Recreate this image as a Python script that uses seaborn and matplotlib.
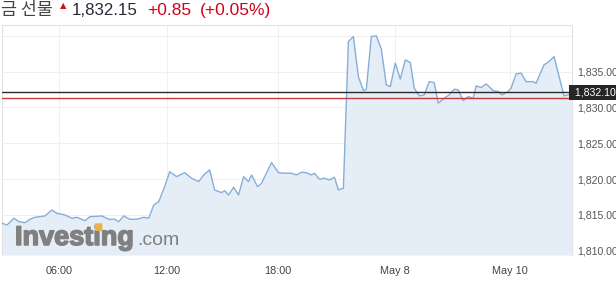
import matplotlib
matplotlib.use("Agg")
import matplotlib.pyplot as plt
import matplotlib.transforms as mtransforms
import matplotlib.patheffects as pe
import seaborn as sns
import pandas as pd

# ---- data ----
t = [0, 5, 12, 17, 23, 28, 33, 43, 50, 55, 63, 70, 75, 83, 88, 100, 107, 113, 117, 122,
     128, 135, 142, 147, 152, 157, 163, 168, 175, 183, 190, 197, 202, 208, 213, 220, 223,
     227, 232, 237, 242, 247, 250, 256, 260, 270, 277, 283, 290, 295, 300, 305, 310, 313,
     318, 323, 328, 333, 337, 342, 347, 352, 357, 362, 365, 370, 375, 380, 385, 389, 394,
     399, 404, 409, 413, 418, 423, 428, 433, 437, 443, 448, 453, 457, 462, 467, 472, 475,
     480, 485, 492, 497, 501, 507, 510, 515, 520, 525, 532, 535, 543, 548, 553, 563, 567, 571]
price = [1813.83, 1813.59, 1814.53, 1814.05, 1813.91, 1814.39, 1814.66, 1814.85, 1815.68,
         1815.22, 1814.99, 1814.53, 1814.66, 1814.19, 1814.75, 1814.85, 1814.39, 1814.39,
         1814.05, 1814.85, 1814.39, 1814.39, 1814.66, 1814.53, 1816.38, 1816.84, 1818.94,
         1821.03, 1820.34, 1820.89, 1820.11, 1819.64, 1820.57, 1821.27, 1818.48, 1818.10,
         1818.38, 1817.78, 1818.85, 1817.78, 1820.34, 1819.64, 1820.57, 1818.94, 1819.41,
         1822.29, 1820.89, 1820.81, 1820.81, 1820.57, 1820.95, 1820.89, 1820.57, 1820.81,
         1819.97, 1820.11, 1819.87, 1820.25, 1818.48, 1818.72, 1839.19, 1839.89, 1834.30,
         1832.35, 1832.54, 1839.89, 1839.99, 1838.13, 1833.14, 1832.91, 1836.17, 1833.94,
         1836.63, 1836.26, 1832.68, 1831.61, 1831.75, 1833.60, 1833.46, 1830.59, 1831.28,
         1831.75, 1832.54, 1832.44, 1830.95, 1831.51, 1831.28, 1833.00, 1832.77, 1833.28,
         1832.35, 1832.21, 1831.75, 1832.21, 1832.68, 1834.68, 1834.78, 1833.60, 1833.60,
         1833.38, 1835.94, 1836.40, 1837.09, 1831.61, 1831.75, 1832.10]
last_price = 1832.10
prev_close = 1831.30
xtick_pos = [57, 165, 276, 394, 509]
xtick_labels = ["06:00", "12:00", "18:00", "May 8", "May 10"]
ytick_vals = [1810, 1815, 1820, 1825, 1830, 1835]
ytick_labels = ["1,810.00", "1,815.00", "1,820.00", "1,825.00", "1,830.00", "1,835.00"]
title_name = "금 선물"
title_price = "1,832.15"
title_change = "+0.85"
title_pct = "(+0.05%)"

df = pd.DataFrame({"t": t, "price": price})

sns.set_theme(style="white")
plt.rcParams["font.family"] = ["Liberation Sans", "Noto Sans CJK KR", "DejaVu Sans"]

W, H = 616, 290
fig = plt.figure(figsize=(W / 100, H / 100), dpi=100)
fig.patch.set_facecolor("white")
ax = fig.add_axes([2 / W, (H - 255) / H, (572 - 2) / W, (255 - 25) / H])

ymin, ymax = 1809.4, 1841.5
ax.fill_between(df["t"], df["price"], ymin, color="#e5edf6", lw=0, zorder=1)
sns.lineplot(data=df, x="t", y="price", ax=ax, color="#86aed8", lw=1.0, zorder=4)

ax.axhline(last_price, color="#2b2b2b", lw=1.0, zorder=5)
ax.axhline(prev_close, color="#c43c3c", lw=1.0, zorder=5)

ax.set_xlim(0, 571)
ax.set_ylim(ymin, ymax)
ax.set_xlabel("")
ax.set_ylabel("")

ax.set_xticks(xtick_pos)
ax.set_xticklabels(xtick_labels)
ax.set_yticks(ytick_vals + [1840])
ax.set_yticklabels(ytick_labels + [""])
ax.yaxis.tick_right()
ax.tick_params(axis="y", length=0, pad=4, labelsize=7.6, labelcolor="#555555")
ax.tick_params(axis="x", length=0, pad=8, labelsize=7.8, labelcolor="#444444")
ax.grid(True, color="#f0f0f0", lw=0.8, zorder=0)
for s in ["top", "left", "right"]:
    ax.spines[s].set_color("#e2e2e2")
    ax.spines[s].set_linewidth(0.8)
ax.spines["bottom"].set_visible(False)

# last price label box on the right
trans = mtransforms.blended_transform_factory(ax.transAxes, ax.transData)
ax.text(1.0, last_price, " 1,832.10 ", transform=trans, ha="left", va="center",
        fontsize=7.6, color="white", zorder=6, clip_on=False,
        bbox=dict(boxstyle="square,pad=0.25", fc="#262626", ec="none"))

# watermark logo
logo_color = "#808080"
fig.text(15 / W, 1 - 245 / H, "Investing", fontsize=19.5, fontweight="bold",
         color=logo_color, ha="left", va="baseline", zorder=3,
         path_effects=[pe.withStroke(linewidth=1.1, foreground=logo_color)])
fig.text(137 / W, 1 - 245 / H, ".com", fontsize=14, color=logo_color,
         ha="left", va="baseline", zorder=3)
fig.text(97.5 / W, 1 - 227 / H, "■", fontsize=7, color="#e8b050",
         ha="center", va="center", zorder=3.5, family=["DejaVu Sans"])

# title
base = 1 - 15 / H
fig.text(1 / W, base, title_name, fontsize=12.5, color="#444444",
         family=["Noto Sans CJK KR", "DejaVu Sans"], ha="left", va="baseline")
fig.text(63.5 / W, 1 - 5.5 / H, "▲", fontsize=6, color="#d0101b", ha="center", va="center",
         family=["DejaVu Sans"])
fig.text(72 / W, base, title_price, fontsize=12.2, color="#2a2a3a", ha="left", va="baseline")
fig.text(147 / W, base, title_change, fontsize=12.5, color="#d0021b", ha="left", va="baseline")
fig.text(200 / W, base, title_pct, fontsize=12.5, color="#d0021b", ha="left", va="baseline")

fig.savefig("out.png", dpi=100)
